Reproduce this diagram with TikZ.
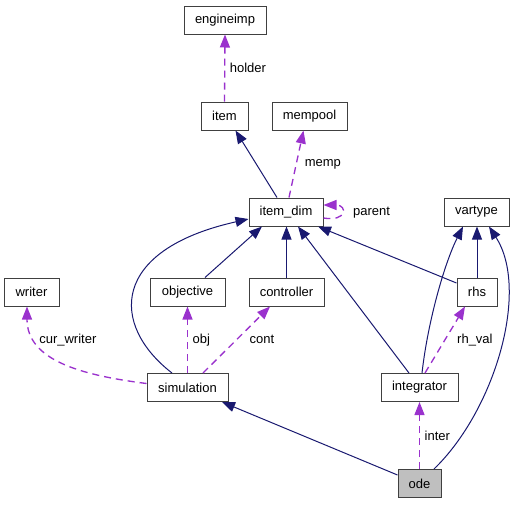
\documentclass[tikz,border=0pt]{standalone}
\usepackage{fontspec}
\setmainfont{Liberation Sans}
\usetikzlibrary{arrows.meta,calc}

\definecolor{edgeblue}{RGB}{25,25,112}
\definecolor{edgepurple}{RGB}{154,50,205}
\definecolor{boxline}{RGB}{64,64,64}
\definecolor{boxgray}{RGB}{191,191,191}

\tikzset{every picture/.style={line width=0.75pt}}

\begin{document}
\begin{tikzpicture}[x=0.75pt,y=0.75pt,yscale=-1,
  >={Triangle[length=9.75pt,width=7.5pt]},
  cls/.style={draw=boxline, fill=white, minimum height=21pt, inner sep=0pt, font=\fontsize{9.75}{12}\selectfont},
  boxw/.style={minimum width=#1*0.75pt},
  inherit/.style={draw=edgeblue, ->},
  usage/.style={draw=edgepurple, line width=1pt, dash pattern=on 5.25pt off 3.75pt, ->},
  lbl/.style={anchor=west, inner sep=0.75pt, text=black, font=\fontsize{9.75}{12}\selectfont}]

\useasboundingbox (0,0) rectangle (517,504);

% classes
\node [cls, boxw=82] (engineimp)  at (225,20)     {engineimp};
\node [cls, boxw=47] (item)       at (224.5,116)  {item};
\node [cls, boxw=75] (mempool)    at (309.5,116)  {mempool};
\node [cls, boxw=74] (item_dim)   at (286,212)    {item\_dim};
\node [cls, boxw=65] (vartype)    at (476.5,212)  {vartype};
\node [cls, boxw=55] (writer)     at (31.5,292)   {writer};
\node [cls, boxw=75] (objective)  at (187.5,292)  {objective};
\node [cls, boxw=75] (controller) at (286.5,292)  {controller};
\node [cls, boxw=40] (rhs)        at (477,292)    {rhs};
\node [cls, boxw=81] (simulation) at (187.5,387.5) {simulation};
\node [cls, boxw=77] (integrator) at (419.5,387.5) {integrator};
\node [cls, boxw=43, fill=boxgray] (ode) at (419.5,483.5) {ode};

% inheritance
\draw [inherit] ($(item_dim.north)+(-9,0)$) -- ($(item.south)+(11,0)$);
\draw [inherit] ($(objective.north)+(17.5,0)$) -- ($(item_dim.south)+(-24,0)$);
\draw [inherit] (controller.north) -- (controller.north |- item_dim.south);
\draw [inherit] ($(rhs.west)+(0,-9)$) -- ($(item_dim.south)+(32,0)$);
\draw [inherit] (rhs.north) -- (rhs.north |- vartype.south);
\draw [inherit] ($(simulation.north)+(-15.5,0)$) .. controls (110,325) and (110,250) .. ($(item_dim.west)+(0,7)$);
\draw [inherit] ($(integrator.north)+(-10.5,0)$) -- ($(item_dim.south)+(12,0)$);
\draw [inherit] ($(integrator.north)+(2.5,0)$) .. controls (428,320) and (445,262) .. ($(vartype.south)+(-13.5,0)$);
\draw [inherit] ($(ode.north)+(14.5,0)$) .. controls (495,410) and (530,290) .. ($(vartype.south)+(12.5,0)$);
\draw [inherit] ($(ode.west)+(0,-8.5)$) -- ($(simulation.south)+(34.5,0)$);

% usage
\draw [usage] (item.north) -- (engineimp.south) node [lbl, midway, xshift=2.6pt] {holder};
\draw [usage] ($(item_dim.north)+(3,0)$) -- ($(mempool.south)+(-6,0)$) node [lbl, midway, xshift=5.2pt] {memp};
\draw [usage] ($(item_dim.east)+(0,6)$) .. controls +(24,4) and +(24,0) .. ($(item_dim.east)+(0,-7)$) node [lbl, pos=0.5, xshift=7.5pt] {parent};
\draw [usage] ($(simulation.west)+(0,-4)$) .. controls (80,375) and (27,360) .. ($(writer.south)+(-4.5,0)$) node [lbl, pos=0.78, xshift=2.5pt, yshift=-2.5pt] {cur\_writer};
\draw [usage] (simulation.north) -- (objective.south) node [lbl, midway, xshift=2.6pt] {obj};
\draw [usage] ($(simulation.north)+(15.5,0)$) -- ($(controller.south)+(-16.5,0)$) node [lbl, midway, xshift=8.6pt] {cont};
\draw [usage] ($(integrator.north)+(5.5,0)$) -- ($(rhs.south)+(-12,0)$) node [lbl, midway, xshift=7.9pt] {rh\_val};
\draw [usage] (ode.north) -- (integrator.south) node [lbl, midway, xshift=2.6pt] {inter};

\end{tikzpicture}
\end{document}
